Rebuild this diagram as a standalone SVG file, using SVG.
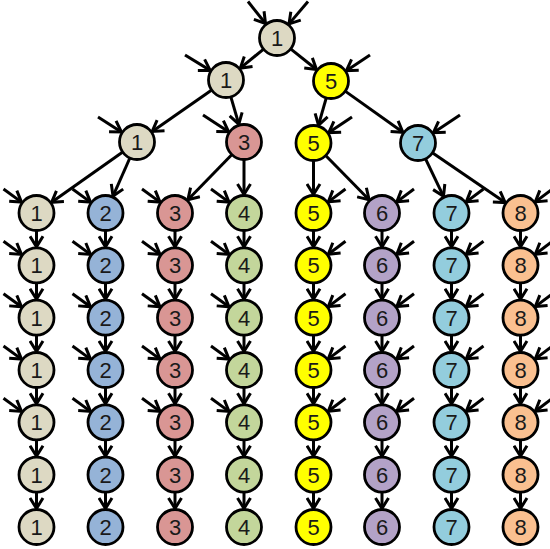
<svg xmlns="http://www.w3.org/2000/svg" width="550" height="549" viewBox="0 0 550 549">
<defs>
<marker id="ah" viewBox="0 0 16 16" refX="12" refY="8" markerWidth="16" markerHeight="16" markerUnits="userSpaceOnUse" orient="auto">
<path d="M1.5,1.5 L12,8 L1.5,14.5" fill="none" stroke="#000" stroke-width="3"/>
</marker>
</defs>
<style>
.e{stroke:#000;stroke-width:3;fill:none;marker-end:url(#ah)}
.n circle{stroke:#000;stroke-width:2.8}
.n text{font-family:"Liberation Sans",Arial,sans-serif;font-size:22px;text-anchor:middle;fill:#1a1a1a}
.c1{fill:#ddd9c3}.c2{fill:#95b3d7}.c3{fill:#d99694}.c4{fill:#c3d69b}
.c5{fill:#ffff00}.c6{fill:#b3a2c7}.c7{fill:#93cddd}.c8{fill:#fac090}
</style>
<g id="connectors">
<line class="e" x1="263.9" y1="48.8" x2="240.3" y2="68.2"/>
<line class="e" x1="290.3" y1="48.6" x2="316.5" y2="69.5"/>
<line class="e" x1="212.1" y1="89.7" x2="152.2" y2="131.4"/>
<line class="e" x1="230.7" y1="96.3" x2="238.8" y2="124.2"/>
<line class="e" x1="326.4" y1="97.4" x2="318.5" y2="125.2"/>
<line class="e" x1="344.8" y1="90.9" x2="402.9" y2="132.3"/>
<line class="e" x1="123.1" y1="151.8" x2="51.6" y2="202.3"/>
<line class="e" x1="130.1" y1="157.5" x2="113.0" y2="196.1"/>
<line class="e" x1="232.2" y1="154.2" x2="187.9" y2="199.7"/>
<line class="e" x1="244" y1="159" x2="244" y2="194.5"/>
<line class="e" x1="313.5" y1="160" x2="313.5" y2="194.5"/>
<line class="e" x1="325.4" y1="155.2" x2="369.1" y2="199.8"/>
<line class="e" x1="425.3" y1="158.3" x2="443.5" y2="196.3"/>
<line class="e" x1="432.0" y1="152.6" x2="505.2" y2="202.6"/>
<line class="e" x1="248" y1="1.5" x2="265.5" y2="23.5"/>
<line class="e" x1="308" y1="1.5" x2="289" y2="23.9"/>
<line class="e" x1="185" y1="55" x2="210.2" y2="70.4"/>
<line class="e" x1="370" y1="55" x2="346.4" y2="70.7"/>
<line class="e" x1="98" y1="117" x2="121.4" y2="132"/>
<line class="e" x1="203" y1="115" x2="228.6" y2="131.8"/>
<line class="e" x1="352" y1="117" x2="328.8" y2="132.6"/>
<line class="e" x1="460" y1="115" x2="433.4" y2="132.7"/>
<g id="verticals">
<line class="e" x1="36.5" y1="230" x2="36.5" y2="246.8"/><line class="e" x1="36.5" y1="282.3" x2="36.5" y2="299.2"/><line class="e" x1="36.5" y1="334.7" x2="36.5" y2="351.5"/><line class="e" x1="36.5" y1="387" x2="36.5" y2="403.8"/><line class="e" x1="36.5" y1="439.3" x2="36.5" y2="456.2"/><line class="e" x1="36.5" y1="491.7" x2="36.5" y2="508.5"/>
<line class="e" x1="105.5" y1="230" x2="105.5" y2="246.8"/><line class="e" x1="105.5" y1="282.3" x2="105.5" y2="299.2"/><line class="e" x1="105.5" y1="334.7" x2="105.5" y2="351.5"/><line class="e" x1="105.5" y1="387" x2="105.5" y2="403.8"/><line class="e" x1="105.5" y1="439.3" x2="105.5" y2="456.2"/><line class="e" x1="105.5" y1="491.7" x2="105.5" y2="508.5"/>
<line class="e" x1="175" y1="230" x2="175" y2="246.8"/><line class="e" x1="175" y1="282.3" x2="175" y2="299.2"/><line class="e" x1="175" y1="334.7" x2="175" y2="351.5"/><line class="e" x1="175" y1="387" x2="175" y2="403.8"/><line class="e" x1="175" y1="439.3" x2="175" y2="456.2"/><line class="e" x1="175" y1="491.7" x2="175" y2="508.5"/>
<line class="e" x1="244" y1="230" x2="244" y2="246.8"/><line class="e" x1="244" y1="282.3" x2="244" y2="299.2"/><line class="e" x1="244" y1="334.7" x2="244" y2="351.5"/><line class="e" x1="244" y1="387" x2="244" y2="403.8"/><line class="e" x1="244" y1="439.3" x2="244" y2="456.2"/><line class="e" x1="244" y1="491.7" x2="244" y2="508.5"/>
<line class="e" x1="313.5" y1="230" x2="313.5" y2="246.8"/><line class="e" x1="313.5" y1="282.3" x2="313.5" y2="299.2"/><line class="e" x1="313.5" y1="334.7" x2="313.5" y2="351.5"/><line class="e" x1="313.5" y1="387" x2="313.5" y2="403.8"/><line class="e" x1="313.5" y1="439.3" x2="313.5" y2="456.2"/><line class="e" x1="313.5" y1="491.7" x2="313.5" y2="508.5"/>
<line class="e" x1="382" y1="230" x2="382" y2="246.8"/><line class="e" x1="382" y1="282.3" x2="382" y2="299.2"/><line class="e" x1="382" y1="334.7" x2="382" y2="351.5"/><line class="e" x1="382" y1="387" x2="382" y2="403.8"/><line class="e" x1="382" y1="439.3" x2="382" y2="456.2"/><line class="e" x1="382" y1="491.7" x2="382" y2="508.5"/>
<line class="e" x1="451.5" y1="230" x2="451.5" y2="246.8"/><line class="e" x1="451.5" y1="282.3" x2="451.5" y2="299.2"/><line class="e" x1="451.5" y1="334.7" x2="451.5" y2="351.5"/><line class="e" x1="451.5" y1="387" x2="451.5" y2="403.8"/><line class="e" x1="451.5" y1="439.3" x2="451.5" y2="456.2"/><line class="e" x1="451.5" y1="491.7" x2="451.5" y2="508.5"/>
<line class="e" x1="520.5" y1="230" x2="520.5" y2="246.8"/><line class="e" x1="520.5" y1="282.3" x2="520.5" y2="299.2"/><line class="e" x1="520.5" y1="334.7" x2="520.5" y2="351.5"/><line class="e" x1="520.5" y1="387" x2="520.5" y2="403.8"/><line class="e" x1="520.5" y1="439.3" x2="520.5" y2="456.2"/><line class="e" x1="520.5" y1="491.7" x2="520.5" y2="508.5"/>
</g>
<g id="inputs">
<line class="e" x1="3.5" y1="189" x2="21.5" y2="202.1"/><line class="e" x1="3.5" y1="241.3" x2="21.5" y2="254.4"/><line class="e" x1="3.5" y1="293.7" x2="21.5" y2="306.8"/><line class="e" x1="3.5" y1="346" x2="21.5" y2="359.1"/><line class="e" x1="3.5" y1="398.3" x2="21.5" y2="411.4"/>
<line class="e" x1="72.5" y1="189" x2="90.5" y2="202.1"/><line class="e" x1="72.5" y1="241.3" x2="90.5" y2="254.4"/><line class="e" x1="72.5" y1="293.7" x2="90.5" y2="306.8"/><line class="e" x1="72.5" y1="346" x2="90.5" y2="359.1"/><line class="e" x1="72.5" y1="398.3" x2="90.5" y2="411.4"/>
<line class="e" x1="142" y1="189" x2="160" y2="202.1"/><line class="e" x1="142" y1="241.3" x2="160" y2="254.4"/><line class="e" x1="142" y1="293.7" x2="160" y2="306.8"/><line class="e" x1="142" y1="346" x2="160" y2="359.1"/><line class="e" x1="142" y1="398.3" x2="160" y2="411.4"/>
<line class="e" x1="211" y1="189" x2="229" y2="202.1"/><line class="e" x1="211" y1="241.3" x2="229" y2="254.4"/><line class="e" x1="211" y1="293.7" x2="229" y2="306.8"/><line class="e" x1="211" y1="346" x2="229" y2="359.1"/><line class="e" x1="211" y1="398.3" x2="229" y2="411.4"/>
<line class="e" x1="345.5" y1="189" x2="328.3" y2="201.9"/><line class="e" x1="345.5" y1="241.3" x2="328.3" y2="254.2"/><line class="e" x1="345.5" y1="293.7" x2="328.3" y2="306.6"/><line class="e" x1="345.5" y1="346" x2="328.3" y2="358.9"/><line class="e" x1="345.5" y1="398.3" x2="328.3" y2="411.2"/>
<line class="e" x1="414" y1="189" x2="396.8" y2="201.9"/><line class="e" x1="414" y1="241.3" x2="396.8" y2="254.2"/><line class="e" x1="414" y1="293.7" x2="396.8" y2="306.6"/><line class="e" x1="414" y1="346" x2="396.8" y2="358.9"/><line class="e" x1="414" y1="398.3" x2="396.8" y2="411.2"/>
<line class="e" x1="483.5" y1="189" x2="466.3" y2="201.9"/><line class="e" x1="483.5" y1="241.3" x2="466.3" y2="254.2"/><line class="e" x1="483.5" y1="293.7" x2="466.3" y2="306.6"/><line class="e" x1="483.5" y1="346" x2="466.3" y2="358.9"/><line class="e" x1="483.5" y1="398.3" x2="466.3" y2="411.2"/>
<line class="e" x1="552.5" y1="189" x2="535.3" y2="201.9"/><line class="e" x1="552.5" y1="241.3" x2="535.3" y2="254.2"/><line class="e" x1="552.5" y1="293.7" x2="535.3" y2="306.6"/><line class="e" x1="552.5" y1="346" x2="535.3" y2="358.9"/><line class="e" x1="552.5" y1="398.3" x2="535.3" y2="411.2"/>
</g>
</g>
<g id="nodes">
<g id="n-root" class="n"><circle class="c1" cx="277" cy="38" r="17.5"/><text x="277" y="46">1</text></g>
<g id="n-b1" class="n"><circle class="c1" cx="226" cy="80" r="17.5"/><text x="226" y="88">1</text></g>
<g id="n-b2" class="n"><circle class="c5" cx="331" cy="81" r="17.5"/><text x="331" y="89">5</text></g>
<g id="n-c1" class="n"><circle class="c1" cx="137" cy="142" r="17.5"/><text x="137" y="150">1</text></g>
<g id="n-c2" class="n"><circle class="c3" cx="244" cy="142" r="17.5"/><text x="244" y="150">3</text></g>
<g id="n-c3" class="n"><circle class="c5" cx="313.5" cy="143" r="17.5"/><text x="313.5" y="151">5</text></g>
<g id="n-c4" class="n"><circle class="c7" cx="418" cy="143" r="17.5"/><text x="418" y="151">7</text></g>

<g id="n-1-1" class="n"><circle class="c1" cx="36.5" cy="213" r="17.5"/><text x="36.5" y="221">1</text></g>
<g id="n-1-2" class="n"><circle class="c1" cx="36.5" cy="265.3" r="17.5"/><text x="36.5" y="273.3">1</text></g>
<g id="n-1-3" class="n"><circle class="c1" cx="36.5" cy="317.7" r="17.5"/><text x="36.5" y="325.7">1</text></g>
<g id="n-1-4" class="n"><circle class="c1" cx="36.5" cy="370" r="17.5"/><text x="36.5" y="378">1</text></g>
<g id="n-1-5" class="n"><circle class="c1" cx="36.5" cy="422.3" r="17.5"/><text x="36.5" y="430.3">1</text></g>
<g id="n-1-6" class="n"><circle class="c1" cx="36.5" cy="474.7" r="17.5"/><text x="36.5" y="482.7">1</text></g>
<g id="n-1-7" class="n"><circle class="c1" cx="36.5" cy="527" r="17.5"/><text x="36.5" y="535">1</text></g>

<g id="n-2-1" class="n"><circle class="c2" cx="105.5" cy="213" r="17.5"/><text x="105.5" y="221">2</text></g>
<g id="n-2-2" class="n"><circle class="c2" cx="105.5" cy="265.3" r="17.5"/><text x="105.5" y="273.3">2</text></g>
<g id="n-2-3" class="n"><circle class="c2" cx="105.5" cy="317.7" r="17.5"/><text x="105.5" y="325.7">2</text></g>
<g id="n-2-4" class="n"><circle class="c2" cx="105.5" cy="370" r="17.5"/><text x="105.5" y="378">2</text></g>
<g id="n-2-5" class="n"><circle class="c2" cx="105.5" cy="422.3" r="17.5"/><text x="105.5" y="430.3">2</text></g>
<g id="n-2-6" class="n"><circle class="c2" cx="105.5" cy="474.7" r="17.5"/><text x="105.5" y="482.7">2</text></g>
<g id="n-2-7" class="n"><circle class="c2" cx="105.5" cy="527" r="17.5"/><text x="105.5" y="535">2</text></g>

<g id="n-3-1" class="n"><circle class="c3" cx="175" cy="213" r="17.5"/><text x="175" y="221">3</text></g>
<g id="n-3-2" class="n"><circle class="c3" cx="175" cy="265.3" r="17.5"/><text x="175" y="273.3">3</text></g>
<g id="n-3-3" class="n"><circle class="c3" cx="175" cy="317.7" r="17.5"/><text x="175" y="325.7">3</text></g>
<g id="n-3-4" class="n"><circle class="c3" cx="175" cy="370" r="17.5"/><text x="175" y="378">3</text></g>
<g id="n-3-5" class="n"><circle class="c3" cx="175" cy="422.3" r="17.5"/><text x="175" y="430.3">3</text></g>
<g id="n-3-6" class="n"><circle class="c3" cx="175" cy="474.7" r="17.5"/><text x="175" y="482.7">3</text></g>
<g id="n-3-7" class="n"><circle class="c3" cx="175" cy="527" r="17.5"/><text x="175" y="535">3</text></g>

<g id="n-4-1" class="n"><circle class="c4" cx="244" cy="213" r="17.5"/><text x="244" y="221">4</text></g>
<g id="n-4-2" class="n"><circle class="c4" cx="244" cy="265.3" r="17.5"/><text x="244" y="273.3">4</text></g>
<g id="n-4-3" class="n"><circle class="c4" cx="244" cy="317.7" r="17.5"/><text x="244" y="325.7">4</text></g>
<g id="n-4-4" class="n"><circle class="c4" cx="244" cy="370" r="17.5"/><text x="244" y="378">4</text></g>
<g id="n-4-5" class="n"><circle class="c4" cx="244" cy="422.3" r="17.5"/><text x="244" y="430.3">4</text></g>
<g id="n-4-6" class="n"><circle class="c4" cx="244" cy="474.7" r="17.5"/><text x="244" y="482.7">4</text></g>
<g id="n-4-7" class="n"><circle class="c4" cx="244" cy="527" r="17.5"/><text x="244" y="535">4</text></g>

<g id="n-5-1" class="n"><circle class="c5" cx="313.5" cy="213" r="17.5"/><text x="313.5" y="221">5</text></g>
<g id="n-5-2" class="n"><circle class="c5" cx="313.5" cy="265.3" r="17.5"/><text x="313.5" y="273.3">5</text></g>
<g id="n-5-3" class="n"><circle class="c5" cx="313.5" cy="317.7" r="17.5"/><text x="313.5" y="325.7">5</text></g>
<g id="n-5-4" class="n"><circle class="c5" cx="313.5" cy="370" r="17.5"/><text x="313.5" y="378">5</text></g>
<g id="n-5-5" class="n"><circle class="c5" cx="313.5" cy="422.3" r="17.5"/><text x="313.5" y="430.3">5</text></g>
<g id="n-5-6" class="n"><circle class="c5" cx="313.5" cy="474.7" r="17.5"/><text x="313.5" y="482.7">5</text></g>
<g id="n-5-7" class="n"><circle class="c5" cx="313.5" cy="527" r="17.5"/><text x="313.5" y="535">5</text></g>

<g id="n-6-1" class="n"><circle class="c6" cx="382" cy="213" r="17.5"/><text x="382" y="221">6</text></g>
<g id="n-6-2" class="n"><circle class="c6" cx="382" cy="265.3" r="17.5"/><text x="382" y="273.3">6</text></g>
<g id="n-6-3" class="n"><circle class="c6" cx="382" cy="317.7" r="17.5"/><text x="382" y="325.7">6</text></g>
<g id="n-6-4" class="n"><circle class="c6" cx="382" cy="370" r="17.5"/><text x="382" y="378">6</text></g>
<g id="n-6-5" class="n"><circle class="c6" cx="382" cy="422.3" r="17.5"/><text x="382" y="430.3">6</text></g>
<g id="n-6-6" class="n"><circle class="c6" cx="382" cy="474.7" r="17.5"/><text x="382" y="482.7">6</text></g>
<g id="n-6-7" class="n"><circle class="c6" cx="382" cy="527" r="17.5"/><text x="382" y="535">6</text></g>

<g id="n-7-1" class="n"><circle class="c7" cx="451.5" cy="213" r="17.5"/><text x="451.5" y="221">7</text></g>
<g id="n-7-2" class="n"><circle class="c7" cx="451.5" cy="265.3" r="17.5"/><text x="451.5" y="273.3">7</text></g>
<g id="n-7-3" class="n"><circle class="c7" cx="451.5" cy="317.7" r="17.5"/><text x="451.5" y="325.7">7</text></g>
<g id="n-7-4" class="n"><circle class="c7" cx="451.5" cy="370" r="17.5"/><text x="451.5" y="378">7</text></g>
<g id="n-7-5" class="n"><circle class="c7" cx="451.5" cy="422.3" r="17.5"/><text x="451.5" y="430.3">7</text></g>
<g id="n-7-6" class="n"><circle class="c7" cx="451.5" cy="474.7" r="17.5"/><text x="451.5" y="482.7">7</text></g>
<g id="n-7-7" class="n"><circle class="c7" cx="451.5" cy="527" r="17.5"/><text x="451.5" y="535">7</text></g>

<g id="n-8-1" class="n"><circle class="c8" cx="520.5" cy="213" r="17.5"/><text x="520.5" y="221">8</text></g>
<g id="n-8-2" class="n"><circle class="c8" cx="520.5" cy="265.3" r="17.5"/><text x="520.5" y="273.3">8</text></g>
<g id="n-8-3" class="n"><circle class="c8" cx="520.5" cy="317.7" r="17.5"/><text x="520.5" y="325.7">8</text></g>
<g id="n-8-4" class="n"><circle class="c8" cx="520.5" cy="370" r="17.5"/><text x="520.5" y="378">8</text></g>
<g id="n-8-5" class="n"><circle class="c8" cx="520.5" cy="422.3" r="17.5"/><text x="520.5" y="430.3">8</text></g>
<g id="n-8-6" class="n"><circle class="c8" cx="520.5" cy="474.7" r="17.5"/><text x="520.5" y="482.7">8</text></g>
<g id="n-8-7" class="n"><circle class="c8" cx="520.5" cy="527" r="17.5"/><text x="520.5" y="535">8</text></g>
</g>
</svg>
